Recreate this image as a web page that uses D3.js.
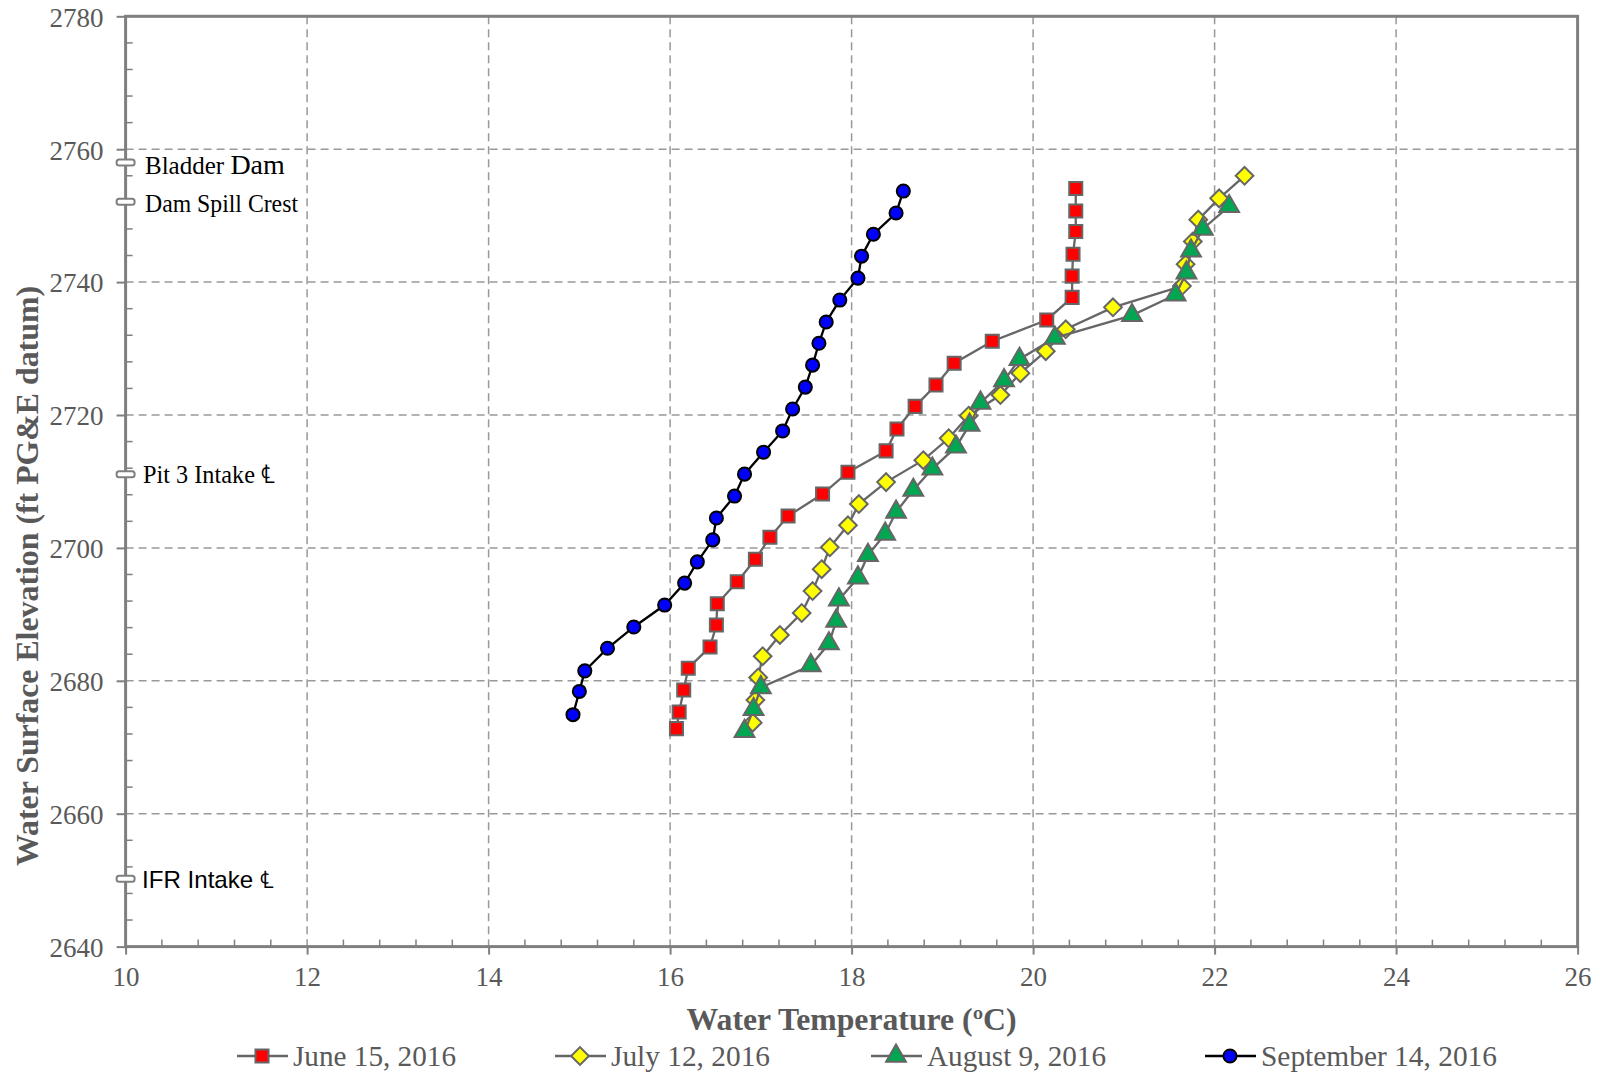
<!DOCTYPE html>
<html><head><meta charset="utf-8">
<script src="https://cdn.jsdelivr.net/npm/d3@7"></script>
<style>body{margin:0;background:#fff}svg{display:block}</style>
</head><body>
<svg id="c" width="1601" height="1074"></svg>
<script>
// ---- data ----
const seriesNames = ["June 15, 2016","July 12, 2016","August 9, 2016","September 14, 2016"];
const juneT = [16.07,16.10,16.15,16.20,16.44,16.51,16.52,16.74,16.94,17.10,17.30,17.68,17.96,18.38,18.50,18.70,18.93,19.13,19.55,20.15,20.43,20.43,20.44,20.47,20.47,20.47];
const juneE = [2672.8,2675.3,2678.6,2681.9,2685.1,2688.4,2691.6,2694.9,2698.3,2701.6,2704.8,2708.1,2711.4,2714.6,2717.9,2721.3,2724.5,2727.8,2731.1,2734.3,2737.7,2740.9,2744.2,2747.6,2750.7,2754.1];
const julyT = [16.91,16.94,16.97,17.02,17.21,17.45,17.57,17.67,17.76,17.96,18.08,18.38,18.79,19.07,19.29,19.64,19.86,20.14,20.36,20.88,21.64,21.68,21.76,21.82,22.05,22.33];
const julyE = [2673.7,2677.1,2680.5,2683.7,2686.9,2690.2,2693.5,2696.8,2700.1,2703.4,2706.6,2709.9,2713.2,2716.5,2719.9,2723.0,2726.3,2729.6,2732.9,2736.2,2739.4,2742.7,2746.1,2749.4,2752.6,2756.0];
const augT = [16.82,16.92,17.00,17.55,17.75,17.83,17.86,18.07,18.18,18.37,18.49,18.68,18.89,19.15,19.30,19.42,19.68,19.85,20.24,21.09,21.57,21.69,21.74,21.87,22.16];
const augE = [2672.4,2675.7,2679.0,2682.3,2685.6,2689.0,2692.2,2695.5,2698.9,2702.1,2705.4,2708.7,2711.9,2715.2,2718.5,2721.8,2725.2,2728.4,2731.6,2735.0,2738.1,2741.4,2744.7,2748.0,2751.4];
const sepT = [14.93,15.00,15.06,15.31,15.60,15.94,16.16,16.30,16.47,16.51,16.71,16.82,17.03,17.24,17.35,17.49,17.57,17.64,17.72,17.87,18.07,18.11,18.24,18.49,18.57];
const sepE = [2674.9,2678.4,2681.5,2684.9,2688.1,2691.4,2694.7,2697.9,2701.2,2704.5,2707.8,2711.1,2714.4,2717.6,2720.9,2724.2,2727.5,2730.8,2734.0,2737.3,2740.6,2743.9,2747.2,2750.4,2753.7];
const refLabels = ["Bladder Dam","Dam Spill Crest","Pit 3 Intake \u2104","IFR Intake \u2104"];
const refElev = [2758.0,2752.1,2711.1,2650.2];
const xTicks = [10,12,14,16,18,20,22,24,26];
const yTicks = [2640,2660,2680,2700,2720,2740,2760,2780];

// ---- layout ----
const L=125.6,R=1577.6,T=16.3,B=946.6;
const x=d3.scaleLinear().domain([10,26]).range([L,R]);
const y=d3.scaleLinear().domain([2640,2780]).range([B,T]);
const svg=d3.select("#c");
const gray="#595959", axisCol="#7f7f7f";
const serif="'Liberation Serif','Times New Roman',serif";

// grid
const grid=svg.append("g").attr("stroke","#999").attr("stroke-width",1.5).attr("stroke-dasharray","8,5");
grid.selectAll("line.v").data(xTicks.slice(1,-1)).join("line").attr("x1",d=>x(d)).attr("x2",d=>x(d)).attr("y1",T).attr("y2",B);
grid.selectAll("line.h").data(yTicks.slice(1,-1)).join("line").attr("y1",d=>y(d)).attr("y2",d=>y(d)).attr("x1",L).attr("x2",R);

// minor ticks
const xMinor=d3.range(10,26.0001,0.4).filter(v=>Math.abs(v/2-Math.round(v/2))>1e-6);
const yMinor=d3.range(2640,2780.001,4).filter(v=>v%20!==0);
const tk=svg.append("g").attr("stroke",axisCol).attr("stroke-width",1.5);
tk.selectAll("line.xm").data(xMinor).join("line").attr("x1",d=>x(d)).attr("x2",d=>x(d)).attr("y1",B).attr("y2",B-7);
tk.selectAll("line.ym").data(yMinor).join("line").attr("y1",d=>y(d)).attr("y2",d=>y(d)).attr("x1",L).attr("x2",L+7);

// major axes with d3
const xAxis=svg.append("g").attr("transform",`translate(0,${B})`).call(d3.axisBottom(x).tickValues(xTicks).tickSize(8).tickFormat(d3.format("d")));
const yAxis=svg.append("g").attr("transform",`translate(${L},0)`).call(d3.axisLeft(y).tickValues(yTicks).tickSize(9).tickFormat(d3.format("d")));
[xAxis,yAxis].forEach(a=>{a.select(".domain").remove();a.selectAll(".tick line").attr("stroke",axisCol).attr("stroke-width",2);});
xAxis.selectAll(".tick text").attr("font-family",serif).attr("font-size",28).attr("fill",gray).attr("y",20).attr("dy","0.71em").attr("textLength",27).attr("lengthAdjust","spacingAndGlyphs");
yAxis.selectAll(".tick text").attr("font-family",serif).attr("font-size",28).attr("fill",gray).attr("x",-22).attr("dy","0.35em").attr("textLength",54).attr("lengthAdjust","spacingAndGlyphs");

// frame
svg.append("rect").attr("x",L).attr("y",T).attr("width",R-L).attr("height",B-T).attr("fill","none").attr("stroke",axisCol).attr("stroke-width",3);

// reference markers & labels
const refW=[133,153,132,132];
refElev.forEach((e,i)=>{
  svg.append("rect").attr("x",L-9).attr("y",y(e)-3).attr("width",18).attr("height",6).attr("rx",2.5)
    .attr("fill","#fff").attr("stroke",axisCol).attr("stroke-width",2);
});
const lb=svg.append("g").attr("fill","#000");
// Bladder Dam (Dam slightly larger)
const t0=lb.append("text").attr("x",145).attr("y",y(refElev[0])+12).attr("font-family",serif).attr("font-size",25);
t0.append("tspan").text("Bladder ");
t0.append("tspan").attr("font-size",28).text("Dam");
lb.append("text").attr("x",145).attr("y",y(refElev[1])+10).attr("font-family",serif).attr("font-size",26)
  .attr("textLength",refW[1]).attr("lengthAdjust","spacingAndGlyphs").text(refLabels[1]);
lb.append("text").attr("x",143).attr("y",y(refElev[2])+9).attr("font-family",serif).attr("font-size",26)
  .attr("textLength",refW[2]).attr("lengthAdjust","spacingAndGlyphs").text(refLabels[2]);
lb.append("text").attr("x",142).attr("y",y(refElev[3])+9).attr("font-family","'Liberation Sans Narrow','Liberation Sans',Arial,sans-serif").attr("font-size",24)
  .attr("textLength",refW[3]).attr("lengthAdjust","spacingAndGlyphs").text(refLabels[3]);

// series
const series=[
  {name:seriesNames[0],T:juneT,E:juneE,sym:d3.symbolSquare,size:170,fill:"#ff0000",stroke:"#666",line:"#666"},
  {name:seriesNames[1],T:julyT,E:julyE,sym:d3.symbolDiamond2,size:200,fill:"#ffff00",stroke:"#666",line:"#666"},
  {name:seriesNames[2],T:augT,E:augE,sym:d3.symbolTriangle,size:170,fill:"#00a651",stroke:"#666",line:"#666"},
  {name:seriesNames[3],T:sepT,E:sepE,sym:d3.symbolCircle,size:135,fill:"#0000ff",stroke:"#000",line:"#000"}
];
const line=d3.line().x(d=>x(d[0])).y(d=>y(d[1]));
series.forEach(s=>{
  const pts=s.T.map((t,i)=>[t,s.E[i]]);
  const g=svg.append("g");
  g.append("path").attr("d",line(pts)).attr("fill","none").attr("stroke",s.line).attr("stroke-width",2.3);
  g.selectAll("path.m").data(pts).join("path").attr("class","m")
    .attr("transform",d=>`translate(${x(d[0])},${y(d[1])})`)
    .attr("d",d3.symbol().type(s.sym).size(s.size)())
    .attr("fill",s.fill).attr("stroke",s.stroke).attr("stroke-width",2);
});

// axis titles
svg.append("text").attr("x",(L+R)/2).attr("y",1030).attr("text-anchor","middle").attr("font-family",serif).attr("font-weight","bold")
  .attr("font-size",31).attr("fill",gray).attr("textLength",330).attr("lengthAdjust","spacingAndGlyphs").text("Water Temperature (\u00baC)");
svg.append("text").attr("transform","translate(38,576) rotate(-90)").attr("text-anchor","middle").attr("font-family",serif).attr("font-weight","bold")
  .attr("font-size",31).attr("fill",gray).attr("textLength",580).attr("lengthAdjust","spacingAndGlyphs").text("Water Surface Elevation (ft PG&E datum)");

// legend
const legX=[262,580,896,1230], legW=[163,159,179,236];
series.forEach((s,i)=>{
  const g=svg.append("g").attr("transform",`translate(${legX[i]},1056)`);
  g.append("line").attr("x1",-25).attr("x2",26).attr("stroke",s.line).attr("stroke-width",2.5);
  g.append("path").attr("d",d3.symbol().type(s.sym).size(s.size)()).attr("fill",s.fill).attr("stroke",s.stroke).attr("stroke-width",2);
  g.append("text").attr("x",31).attr("y",10).attr("font-family",serif).attr("font-size",29).attr("fill",gray)
    .attr("textLength",legW[i]).attr("lengthAdjust","spacingAndGlyphs").text(s.name);
});
</script>
</body></html>
